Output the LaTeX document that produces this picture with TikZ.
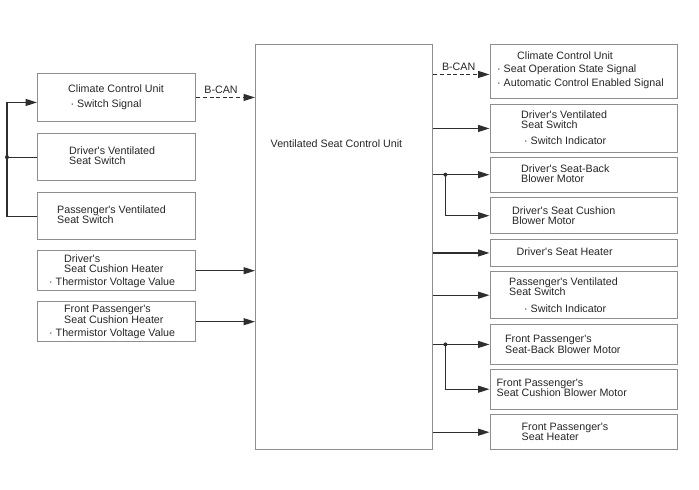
\documentclass[tikz,border=0pt]{standalone}
\usepackage{fontspec}
\setmainfont{Liberation Sans}[Ligatures=TeXOff]
\usetikzlibrary{arrows.meta,positioning}
\definecolor{boxgray}{HTML}{8E8E8E}
\definecolor{linegray}{HTML}{2E2E2E}

\begin{document}
\begin{tikzpicture}[x=1pt,y=-1pt,
    box/.style={draw=boxgray, line width=1.4pt, anchor=north west, inner sep=0pt, minimum width=#1},
    box/.default=158pt,
    lbl/.style={anchor=west, inner sep=0pt, align=left, text=black!85, font=\fontsize{10.7}{10.3}\selectfont},
    sig/.style={draw=linegray, line width=1.2pt, -{Triangle[length=11.5pt,width=7pt]}},
    can/.style={sig, dash pattern=on 4pt off 2.6pt},
    wire/.style={draw=linegray, line width=1.2pt},
    jdot/.style={circle, fill=linegray, inner sep=0pt, minimum size=4pt}]
    \useasboundingbox (0,0) rectangle (699,490);

    % left column
    \node[box, minimum height=47.5pt] (ccuL) at (37,73) {};
    \node[box, minimum height=47pt] (dvsL) at (37,133) {};
    \node[box, minimum height=47pt] (pvsL) at (37,192) {};
    \node[box, minimum height=40pt] (dhtL) at (37,250) {};
    \node[box, minimum height=40pt] (phtL) at (37,301) {};

    % control unit
    \node[box=177pt, minimum height=405pt] (vscu) at (255,44) {};

    % right column
    \node[box=187.5pt, minimum height=53.5pt] (ccuR) at (489.5,44) {};
    \node[box=187.5pt, minimum height=47.5pt] (dvsR) at (489.5,104) {};
    \node[box=187.5pt, minimum height=35pt] (dsbR) at (489.5,156.5) {};
    \node[box=187.5pt, minimum height=36pt] (dscR) at (489.5,197) {};
    \node[box=187.5pt, minimum height=27.5pt] (dhtR) at (489.5,238.5) {};
    \node[box=187.5pt, minimum height=47pt] (pvsR) at (489.5,271) {};
    \node[box=187.5pt, minimum height=39.5pt] (psbR) at (489.5,324) {};
    \node[box=187.5pt, minimum height=40pt] (pscR) at (489.5,368.5) {};
    \node[box=187.5pt, minimum height=35pt] (phtR) at (489.5,414) {};

    % texts
    \node[lbl] (t1) at (68,89) {Climate Control Unit};
    \node[lbl] (t1s) at (70.5,105) {· Switch Signal};
    \node[lbl] (t2) at (69,156) {Driver's Ventilated\\Seat Switch};
    \node[lbl] (t3) at (57,215) {Passenger's Ventilated\\Seat Switch};
    \node[lbl] (t4) at (64,264) {Driver's\\Seat Cushion Heater};
    \node[lbl] (t4s) at (49,283) {· Thermistor Voltage Value};
    \node[lbl] (t5) at (64,314.5) {Front Passenger's\\Seat Cushion Heater};
    \node[lbl] (t5s) at (49,333.5) {· Thermistor Voltage Value};
    \node[lbl] (tc) at (270.5,144) {Ventilated Seat Control Unit};
    \node[lbl] (r1) at (517,56) {Climate Control Unit};
    \node[lbl] (r1s) at (497,69.5) {· Seat Operation State Signal};
    \node[lbl] (r1t) at (497,84) {· Automatic Control Enabled Signal};
    \node[lbl] (r2) at (521,119.5) {Driver's Ventilated\\Seat Switch};
    \node[lbl] (r2s) at (524,141) {· Switch Indicator};
    \node[lbl] (r3) at (521,173.5) {Driver's Seat-Back\\Blower Motor};
    \node[lbl] (r4) at (512,215.5) {Driver's Seat Cushion\\Blower Motor};
    \node[lbl] (r5) at (516.5,252) {Driver's Seat Heater};
    \node[lbl] (r6) at (509,286.5) {Passenger's Ventilated\\Seat Switch};
    \node[lbl] (r6s) at (524,308.5) {· Switch Indicator};
    \node[lbl] (r7) at (505,344.5) {Front Passenger's\\Seat-Back Blower Motor};
    \node[lbl] (r8) at (496.5,388) {Front Passenger's\\Seat Cushion Blower Motor};
    \node[lbl] (r9) at (521.5,432) {Front Passenger's\\Seat Heater};

    % inputs
    \coordinate (bus) at (7,0);
    \draw[sig] (pvsL.west) -- (bus |- pvsL.west) |- ([yshift=-5pt]ccuL.west);
    \draw[wire] (dvsL.west) -- (bus |- dvsL.west);
    \node[jdot] (j0) at (bus |- dvsL.west) {};
    \draw[can] (ccuL.east) -- node[lbl, anchor=south, pos=0.42, yshift=3pt] (canL) {B-CAN} (vscu.west |- ccuL.east);
    \draw[sig] (dhtL.east) -- (vscu.west |- dhtL.east);
    \draw[sig] (phtL.east) -- (vscu.west |- phtL.east);

    % outputs
    \draw[can] ([yshift=-3pt]vscu.east |- ccuR.west) -- node[lbl, anchor=south, pos=0.45, yshift=3pt] (canR) {B-CAN} ([yshift=-3pt]ccuR.west);
    \draw[sig] (vscu.east |- dvsR.west) -- (dvsR.west);
    \draw[sig] (vscu.east |- dsbR.west) -- (dsbR.west);
    \node[jdot] (j1) at ([xshift=12pt]vscu.east |- dsbR.west) {};
    \draw[sig] (j1.center) |- (dscR.west);
    \draw[sig] (vscu.east |- dhtR.west) -- (dhtR.west);
    \draw[sig] (vscu.east |- pvsR.west) -- (pvsR.west);
    \draw[sig] (vscu.east |- psbR.west) -- (psbR.west);
    \node[jdot] (j2) at ([xshift=12pt]vscu.east |- psbR.west) {};
    \draw[sig] (j2.center) |- (pscR.west);
    \draw[sig] (vscu.east |- phtR.west) -- (phtR.west);
\end{tikzpicture}
\end{document}
